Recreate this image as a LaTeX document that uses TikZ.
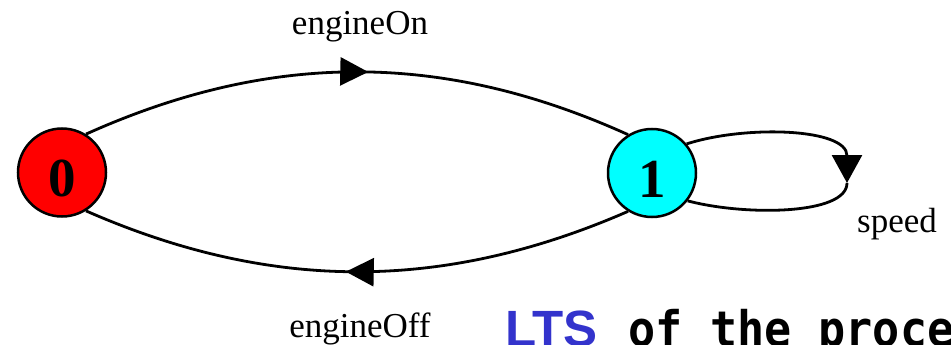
\documentclass[tikz,border=0pt]{standalone}
\usepackage{fontspec}
\setmainfont{Liberation Serif}
\newfontfamily\monofnt[FakeStretch=0.92]{DejaVu Sans Mono}
\newfontfamily\ltsfnt{Liberation Sans}
\usetikzlibrary{arrows.meta,decorations.markings}
\definecolor{ltsblue}{RGB}{51,51,204}
\definecolor{stcyan}{RGB}{0,255,255}
\definecolor{stred}{RGB}{255,0,0}
\tikzset{
  state/.style={circle,draw=black,line width=2.5pt,minimum size=88pt,inner sep=0pt,
    font=\fontsize{55}{55}\selectfont\bfseries,text height=48pt,text depth=0pt},
  conn/.style={line width=2.8pt},
  edge/.style={conn,postaction={decorate},
    decoration={markings,mark=at position #1 with {\arrow{Triangle[length=28pt,width=28pt]}}}},
  tip/.style={-{Triangle[length=28pt,width=30pt]}},
  lbl/.style={font=\fontsize{35}{35}\selectfont,inner sep=0pt,anchor=base}
}
\begin{document}
\begin{tikzpicture}[x=1pt,y=-1pt]
\useasboundingbox (0,0) rectangle (951,345);
\clip (0,0) rectangle (951,345);
\node[state,fill=stred] (n0) at (62,172.5) {0};
\node[state,fill=stcyan] (n1) at (652,173) {1};
\draw[edge=0.52] (n0.58) .. controls (271,51) and (443,51) .. (n1.122);
\draw[edge=0.52] (n1.238) .. controls (443,292) and (271,292) .. (n0.302);
\coordinate (lr) at (847,183);
\draw[conn,tip] (n1.40) .. controls (745,125) and (847,128) .. (lr);
\draw[conn] (lr) .. controls (847,215) and (745,216) .. (n1.322);
\node[lbl] (lon) at (360,35) {engineOn};
\node[lbl] (loff) at (360,337) {engineOff};
\node[lbl] (lsp) at (897,232) {speed};
\node[font=\monofnt\bfseries\fontsize{49}{49}\selectfont,inner sep=0pt,anchor=base west] (title) at (505,346)
  {{\ltsfnt\bfseries\fontsize{51}{51}\selectfont\textcolor{ltsblue}{LTS}}\hspace{31pt}of the process};
\end{tikzpicture}
\end{document}
